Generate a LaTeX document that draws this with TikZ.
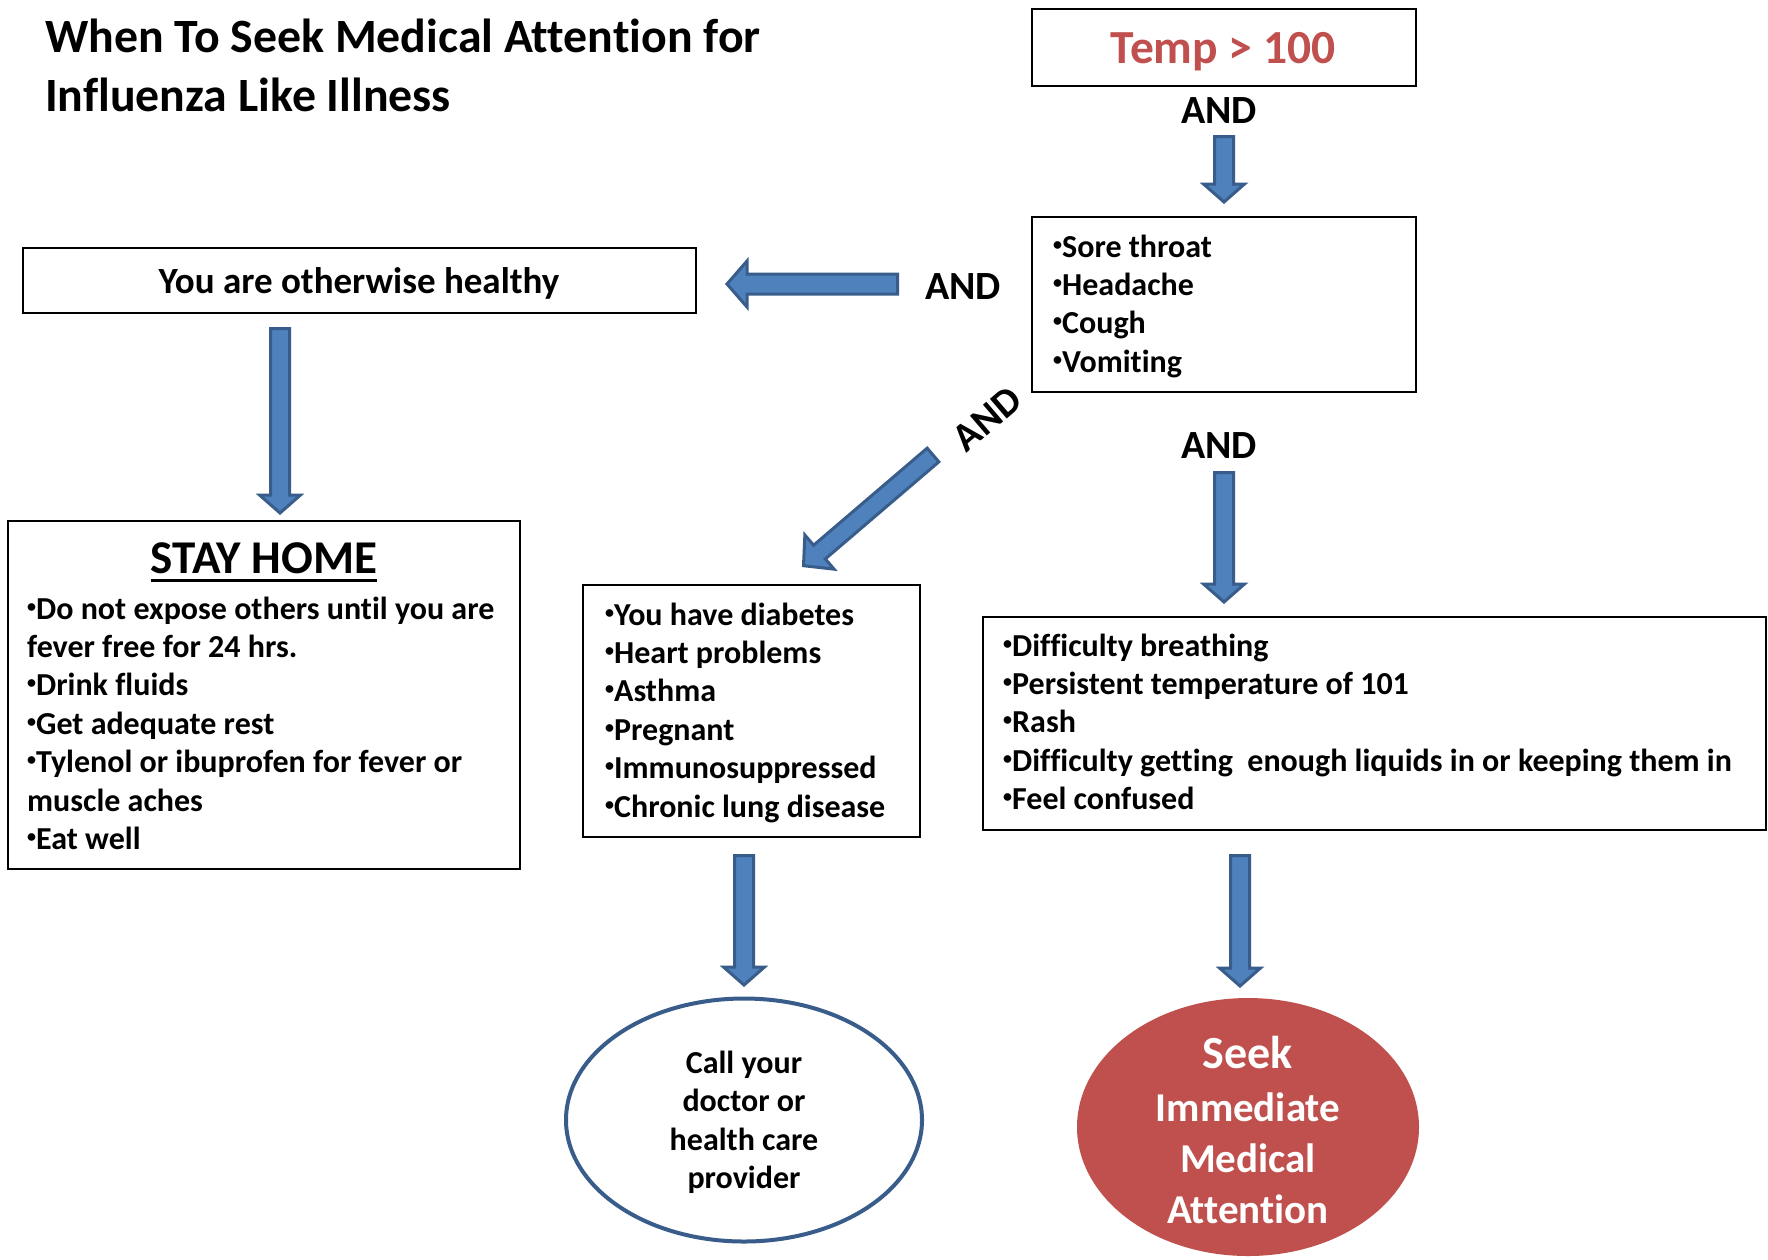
\documentclass[tikz,border=0pt]{standalone}
\usepackage{fontspec}
\setmainfont{Carlito}[Ligatures=NoCommon]
\usetikzlibrary{calc,shapes.geometric}
\definecolor{arrfill}{HTML}{4F81BD}
\definecolor{arrline}{HTML}{385D8A}
\definecolor{alertred}{HTML}{C0504D}
% small raised bullet
\newcommand{\bul}{\raisebox{7pt}{\fontsize{18}{18}\selectfont •}}
% block arrow: tail, tip, shaft half-width, head half-width, head length
\newcommand{\blockarr}[5]{%
  \coordinate (ba-h) at ($(#2)!#5pt!(#1)$);
  \draw[blockarrow] ($(#1)!#3pt!90:(#2)$) -- ($(ba-h)!#3pt!90:(#2)$) -- ($(ba-h)!#4pt!90:(#2)$) -- (#2)
    -- ($(ba-h)!#4pt!-90:(#2)$) -- ($(ba-h)!#3pt!-90:(#2)$) -- ($(#1)!#3pt!-90:(#2)$) -- cycle;
}
\begin{document}
\begin{tikzpicture}[x=1pt,y=-1pt,
  box/.style={draw=black,line width=2.5pt,inner sep=0pt,rectangle},
  bodytext/.style={font=\bfseries\fontsize{32}{38.4}\selectfont,align=left,inner sep=0pt,anchor=north west},
  andlabel/.style={font=\bfseries\fontsize{40}{48}\selectfont,inner sep=0pt,anchor=base},
  blockarrow/.style={fill=arrfill,draw=arrline,line width=3pt,line join=miter}]
\useasboundingbox (0,0) rectangle (1768,1259);
\fill[white] (0,0) rectangle (1768,1259);

% title
\node[font=\bfseries\fontsize{47.8}{59}\selectfont,align=left,inner sep=0pt,anchor=north west] (title) at (45,10.7)
  {\strut When To Seek Medical Attention for\\Influenza Like Illness};

% temperature box
\node[box,minimum width=384pt,minimum height=77pt] (temp) at (1224,47.5) {};
\node[font=\bfseries\fontsize{47.5}{56}\selectfont,text=alertred,inner sep=0pt,anchor=base] (temptxt) at (1223,63) {Temp > 100};
\node[andlabel] (and1) at (1219,123) {AND};

% symptoms box
\node[box,minimum width=384pt,minimum height=175pt] (sym) at (1224,304.5) {};
\node[bodytext] (symtxt) at (1053,230.1) {\strut\bul Sore throat\\\bul Headache\\\bul Cough\\\bul Vomiting};

% otherwise healthy
\node[andlabel] (and2) at (963,299) {AND};
\node[box,minimum width=673pt,minimum height=65pt] (healthy) at (359.5,280.5) {};
\node[font=\bfseries\fontsize{37}{44}\selectfont,inner sep=0pt,anchor=base] (healthytxt) at (359,293) {You are otherwise healthy};

% stay home
\node[box,minimum width=512pt,minimum height=348pt] (stay) at (264,695) {};
\node[font=\bfseries\fontsize{47}{56}\selectfont,inner sep=0pt,anchor=base] (staytitle) at (264,573) {STAY HOME};
\draw[line width=3pt] ($(staytitle.base west)+(0,7)$) -- ($(staytitle.base east)+(0,7)$);
\node[bodytext] (staytxt) at (27,592.1) {\strut\bul Do not expose others until you are\\fever free for 24 hrs.\\\bul Drink fluids\\\bul Get adequate rest\\\bul Tylenol or ibuprofen for fever or\\muscle aches\\\bul Eat well};

% high-risk box
\node[andlabel,anchor=center,rotate=40.6] (and4) at (987,419) {AND};
\node[box,minimum width=337pt,minimum height=252pt] (mid) at (751.5,711) {};
\node[bodytext] (midtxt) at (605,598.1) {\strut\bul You have diabetes\\\bul Heart problems\\\bul Asthma\\\bul Pregnant\\\bul Immunosuppressed\\\bul Chronic lung disease};

% danger signs box
\node[andlabel] (and3) at (1219,458) {AND};
\node[box,minimum width=783pt,minimum height=213pt] (risk) at (1374.5,723.5) {};
\node[bodytext] (risktxt) at (1003,629.1) {\strut\bul Difficulty breathing\\\bul Persistent temperature of 101\\\bul Rash\\\bul Difficulty getting~ enough liquids in or keeping them in\\\bul Feel confused};

% outcomes
\node[ellipse,draw=arrline,line width=4pt,minimum width=356pt,minimum height=243pt,inner sep=0pt] (call) at (744,1120) {};
\node[font=\bfseries\fontsize{32}{38.4}\selectfont,align=center,inner sep=0pt,anchor=north] (calltxt) at (744,1046.1)
  {\strut Call your\\doctor or\\health care\\provider};
\node[ellipse,fill=alertred,minimum width=342pt,minimum height=258pt,inner sep=0pt] (seek) at (1248,1127) {};
\node[font=\bfseries\fontsize{46}{55}\selectfont,text=white,inner sep=0pt,anchor=base] (seektxt) at (1248,1068) {Seek};
\node[font=\bfseries\fontsize{41}{51}\selectfont,text=white,align=center,inner sep=0pt,anchor=north] (seektxt2) at (1248,1085.3)
  {\strut Immediate\\Medical\\Attention};

% arrows
\coordinate (a1s) at (1224,136.5); \coordinate (a1e) at (1224,202);
\coordinate (a2s) at (897.5,284);  \coordinate (a2e) at (727,284);
\coordinate (a3s) at (280,328.5);  \coordinate (a3e) at (280,513);
\coordinate (a4s) at (933,455);    \coordinate (a4e) at (803.5,565.7);
\coordinate (a5s) at (1224,472.5); \coordinate (a5e) at (1224,602);
\coordinate (a6s) at (744,855.5);  \coordinate (a6e) at (744,985);
\coordinate (a7s) at (1240,855.5); \coordinate (a7e) at (1240,986);
\blockarr{a1s}{a1e}{9.5}{20.5}{18}
\blockarr{a2s}{a2e}{10}{23}{20}
\blockarr{a3s}{a3e}{9.5}{20.5}{18}
\blockarr{a4s}{a4e}{9}{22.5}{21}
\blockarr{a5s}{a5e}{9.5}{20.5}{18}
\blockarr{a6s}{a6e}{9.5}{20.5}{18}
\blockarr{a7s}{a7e}{9.5}{20.5}{18}
\end{tikzpicture}
\end{document}
